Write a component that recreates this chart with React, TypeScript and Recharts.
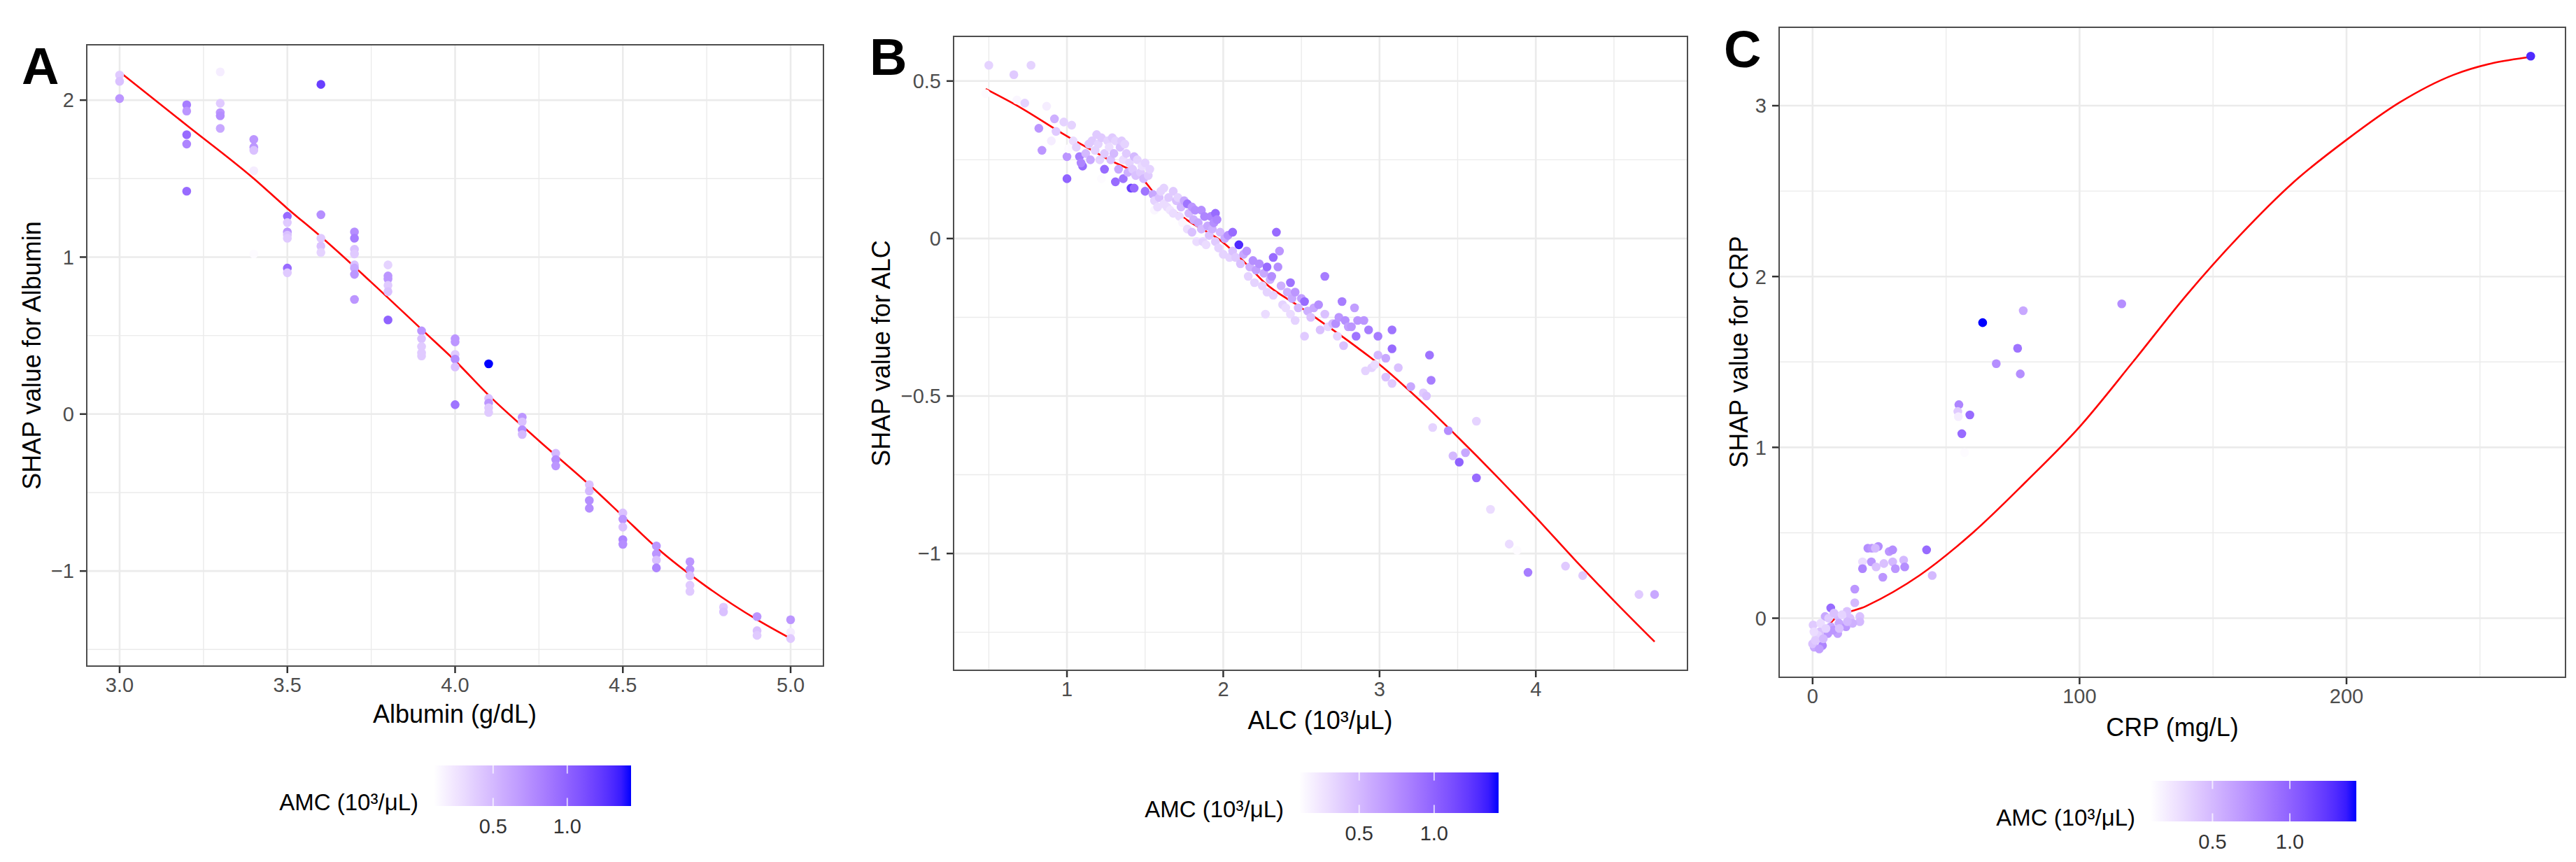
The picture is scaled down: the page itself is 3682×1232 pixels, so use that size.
import React from 'react';
import { ComposedChart, Scatter, Line, XAxis, YAxis, CartesianGrid } from 'recharts';

type Pt = [number, number, number]; // [feature value, SHAP value, AMC]

const FONT = '"Liberation Sans", Arial, Helvetica, sans-serif';

// ---- colour scale (AMC, 10^3/uL), white -> blue like scale_colour_gradient
const AMC_MIN = 0.1;
const AMC_MAX = 1.43;
const amcLegendTicks = [0.5, 1.0];

// ---- panel A: Albumin
const albuminPts: Pt[] = [
    [3.0, 2.16, 0.4], [3.0, 2.12, 0.45], [3.0, 2.01, 0.7],
    [3.2, 1.97, 0.85], [3.2, 1.93, 0.7], [3.2, 1.78, 0.95], [3.2, 1.72, 0.8], [3.2, 1.42, 0.95],
    [3.3, 2.18, 0.2], [3.3, 1.98, 0.4], [3.3, 1.92, 0.7], [3.3, 1.90, 0.75], [3.3, 1.82, 0.6],
    [3.4, 1.75, 0.7], [3.4, 1.70, 0.7], [3.4, 1.68, 0.45], [3.4, 1.55, 0.2], [3.4, 1.02, 0.12],
    [3.5, 1.26, 0.95], [3.5, 1.22, 0.4], [3.5, 1.16, 0.7], [3.5, 1.14, 0.45], [3.5, 1.12, 0.4], [3.5, 0.93, 0.95], [3.5, 0.90, 0.4],
    [3.6, 2.10, 1.2], [3.6, 1.27, 0.75], [3.6, 1.12, 0.4], [3.6, 1.07, 0.45], [3.6, 1.03, 0.35],
    [3.7, 1.16, 0.75], [3.7, 1.12, 0.85], [3.7, 1.05, 0.45], [3.7, 1.02, 0.4], [3.7, 0.95, 0.45], [3.7, 0.93, 0.6], [3.7, 0.89, 0.7], [3.7, 0.73, 0.7],
    [3.8, 0.95, 0.35], [3.8, 0.88, 0.7], [3.8, 0.86, 0.7], [3.8, 0.82, 0.4], [3.8, 0.78, 0.45], [3.8, 0.60, 1.0],
    [3.9, 0.53, 0.7], [3.9, 0.48, 0.45], [3.9, 0.43, 0.4], [3.9, 0.39, 0.4], [3.9, 0.37, 0.4],
    [4.0, 0.48, 0.7], [4.0, 0.46, 0.7], [4.0, 0.38, 0.4], [4.0, 0.35, 0.75], [4.0, 0.30, 0.45], [4.0, 0.06, 0.9],
    [4.1, 0.32, 1.43], [4.1, 0.10, 0.45], [4.1, 0.07, 0.7], [4.1, 0.04, 0.4], [4.1, 0.01, 0.4],
    [4.2, -0.02, 0.7], [4.2, -0.05, 0.45], [4.2, -0.10, 0.75], [4.2, -0.13, 0.5],
    [4.3, -0.25, 0.5], [4.3, -0.29, 0.75], [4.3, -0.33, 0.7],
    [4.4, -0.45, 0.45], [4.4, -0.49, 0.5], [4.4, -0.55, 0.75], [4.4, -0.60, 0.75],
    [4.5, -0.63, 0.45], [4.5, -0.67, 0.7], [4.5, -0.72, 0.45], [4.5, -0.80, 0.8], [4.5, -0.83, 0.75],
    [4.6, -0.84, 0.7], [4.6, -0.89, 0.7], [4.6, -0.93, 0.45], [4.6, -0.98, 0.8],
    [4.7, -0.94, 0.7], [4.7, -0.99, 0.7], [4.7, -1.03, 0.45], [4.7, -1.09, 0.4], [4.7, -1.13, 0.4],
    [4.8, -1.23, 0.4], [4.8, -1.26, 0.45],
    [4.9, -1.29, 0.7], [4.9, -1.38, 0.45], [4.9, -1.41, 0.4],
    [5.0, -1.31, 0.7], [5.0, -1.39, 0.2], [5.0, -1.43, 0.4],
];
const albuminFit: [number, number][] = [
    [3.0, 2.18], [3.2, 1.84], [3.4, 1.5], [3.5, 1.31], [3.6, 1.13], [3.75, 0.84], [3.9, 0.54], [4.0, 0.34],
    [4.1, 0.12], [4.25, -0.17], [4.4, -0.45], [4.5, -0.65], [4.6, -0.85], [4.75, -1.1], [4.9, -1.31], [5.0, -1.43],
];
const albuminXTicks = [3.0, 3.5, 4.0, 4.5, 5.0];
const albuminYTicks = [-1, 0, 1, 2];
const albuminXMinor = [3.25, 3.75, 4.25, 4.75];
const albuminYMinor = [-1.5, -0.5, 0.5, 1.5];

// ---- panel B: ALC
const alcPts: Pt[] = [
    [0.50, 0.55, 0.35], [0.66, 0.52, 0.4], [0.77, 0.55, 0.35], [0.48, 0.46, 0.12], [0.68, 0.44, 0.15], [0.73, 0.43, 0.35], [0.87, 0.42, 0.2],
    [0.92, 0.38, 0.55], [0.82, 0.35, 0.7], [0.84, 0.28, 0.7], [0.90, 0.31, 0.2], [0.93, 0.34, 0.4], [0.98, 0.37, 0.35], [1.03, 0.36, 0.35],
    [1.00, 0.19, 1.0], [1.00, 0.26, 0.7], [1.01, 0.285, 0.12], [1.04, 0.31, 0.3], [1.06, 0.29, 0.35],
    [1.08, 0.26, 0.85], [1.10, 0.23, 0.95], [1.09, 0.24, 0.8], [1.12, 0.27, 0.5], [1.14, 0.30, 0.4], [1.15, 0.25, 0.6], [1.16, 0.31, 0.4],
    [1.19, 0.33, 0.4], [1.18, 0.28, 0.35], [1.21, 0.25, 0.35], [1.20, 0.30, 0.35], [1.22, 0.32, 0.4], [1.22, 0.19, 0.12], [1.24, 0.22, 0.95],
    [1.24, 0.27, 0.4], [1.26, 0.31, 0.35], [1.27, 0.29, 0.3], [1.28, 0.25, 0.45], [1.29, 0.32, 0.4], [1.31, 0.31, 0.35], [1.30, 0.27, 0.5],
    [1.31, 0.18, 0.95], [1.33, 0.22, 0.6], [1.34, 0.29, 0.45], [1.35, 0.31, 0.4], [1.36, 0.25, 0.3], [1.36, 0.19, 0.9], [1.37, 0.30, 0.35],
    [1.38, 0.27, 0.4], [1.39, 0.21, 0.55], [1.40, 0.24, 0.35], [1.41, 0.16, 1.2], [1.42, 0.22, 0.4], [1.43, 0.26, 0.5], [1.44, 0.20, 0.45],
    [1.43, 0.16, 0.95], [1.45, 0.25, 0.35], [1.47, 0.21, 0.4], [1.48, 0.23, 0.3], [1.49, 0.19, 0.5], [1.50, 0.24, 0.35], [1.50, 0.15, 0.9],
    [1.52, 0.20, 0.4], [1.53, 0.22, 0.35], [1.55, 0.14, 0.6], [1.56, 0.12, 0.35], [1.56, 0.09, 0.15], [1.58, 0.10, 0.3], [1.59, 0.13, 0.45],
    [1.60, 0.15, 0.35], [1.62, 0.16, 0.35], [1.62, 0.11, 0.3], [1.64, 0.10, 0.3], [1.65, 0.13, 0.4], [1.66, 0.09, 0.25], [1.68, 0.15, 0.4], [1.68, 0.08, 0.3],
    [1.70, 0.12, 0.45], [1.71, 0.13, 0.35], [1.72, 0.07, 0.3], [1.73, 0.10, 0.5], [1.74, 0.05, 0.15], [1.75, 0.12, 0.6], [1.77, 0.11, 0.9],
    [1.77, 0.03, 0.3], [1.78, 0.08, 0.5], [1.80, 0.10, 0.7], [1.80, 0.02, 0.45], [1.81, 0.06, 0.55], [1.82, 0.09, 0.75], [1.83, -0.01, 0.3],
    [1.84, 0.05, 0.6], [1.86, 0.09, 0.75], [1.86, 0.03, 0.5], [1.87, -0.01, 0.35], [1.88, 0.07, 0.8], [1.89, -0.02, 0.3], [1.90, 0.04, 0.6],
    [1.91, 0.01, 0.45], [1.92, 0.07, 0.8], [1.93, 0.03, 0.55], [1.94, 0.05, 0.75], [1.95, 0.08, 0.95], [1.95, -0.01, 0.4], [1.96, 0.06, 0.8],
    [1.97, -0.03, 0.35], [1.98, 0.02, 0.5], [2.00, -0.05, 0.35], [2.01, 0.00, 0.6],
    [2.03, 0.01, 0.75], [2.06, 0.02, 0.95], [2.04, -0.06, 0.35], [2.06, -0.04, 0.45], [2.08, -0.06, 0.4], [2.10, -0.02, 1.3], [2.11, -0.08, 0.45],
    [2.13, -0.05, 0.6], [2.15, -0.04, 0.7], [2.16, -0.12, 0.35], [2.17, -0.09, 0.55], [2.19, -0.07, 0.75], [2.20, -0.14, 0.35], [2.21, -0.10, 0.65],
    [2.23, -0.08, 0.75], [2.25, -0.15, 0.35], [2.26, -0.11, 0.6], [2.27, -0.24, 0.3], [2.28, -0.09, 0.95], [2.28, -0.17, 0.35], [2.30, -0.13, 0.55],
    [2.31, -0.12, 0.75], [2.32, -0.06, 0.95], [2.32, -0.18, 0.35], [2.34, 0.02, 0.95], [2.35, -0.09, 0.75], [2.36, -0.04, 0.7], [2.37, -0.15, 0.55],
    [2.38, -0.21, 0.35], [2.40, -0.22, 0.3], [2.41, -0.17, 0.55], [2.43, -0.14, 0.9], [2.43, -0.24, 0.3], [2.44, -0.19, 0.6], [2.46, -0.17, 0.7],
    [2.46, -0.26, 0.35], [2.48, -0.22, 0.5], [2.50, -0.19, 0.65], [2.52, -0.20, 0.95], [2.52, -0.31, 0.4], [2.54, -0.23, 0.55], [2.56, -0.25, 0.45],
    [2.58, -0.22, 0.6], [2.61, -0.21, 0.75], [2.62, -0.29, 0.45], [2.65, -0.12, 0.85], [2.65, -0.24, 0.45], [2.67, -0.28, 0.35], [2.70, -0.27, 0.5],
    [2.72, -0.27, 0.75], [2.73, -0.31, 0.35], [2.74, -0.25, 0.7], [2.76, -0.20, 0.85], [2.77, -0.34, 0.45], [2.78, -0.26, 0.75], [2.80, -0.28, 0.65],
    [2.82, -0.28, 0.7], [2.84, -0.22, 0.65], [2.85, -0.31, 0.9], [2.86, -0.26, 0.7], [2.90, -0.26, 0.7], [2.91, -0.42, 0.35], [2.93, -0.29, 0.85],
    [2.95, -0.41, 0.35], [2.97, -0.40, 0.3], [2.99, -0.31, 0.85], [2.99, -0.37, 0.5], [3.04, -0.38, 0.6], [3.04, -0.44, 0.45], [3.08, -0.29, 0.9],
    [3.08, -0.35, 0.95], [3.08, -0.46, 0.4], [3.12, -0.41, 0.45], [3.20, -0.47, 0.6], [3.28, -0.49, 0.4], [3.30, -0.50, 0.45], [3.32, -0.37, 0.9],
    [3.33, -0.45, 0.85], [3.34, -0.60, 0.35], [3.44, -0.61, 0.75], [3.47, -0.69, 0.5], [3.51, -0.71, 1.0], [3.55, -0.68, 0.6], [3.62, -0.58, 0.35],
    [3.62, -0.76, 0.95], [3.71, -0.86, 0.3], [3.83, -0.97, 0.3], [3.88, -0.99, 0.12], [3.95, -1.06, 0.85], [4.19, -1.04, 0.4], [4.30, -1.07, 0.4],
    [4.66, -1.13, 0.4], [4.76, -1.13, 0.6],
];
const alcFit: [number, number][] = [
    [0.48, 0.475], [0.67, 0.425], [1.0, 0.325], [1.25, 0.255], [1.5, 0.18], [1.56, 0.143], [1.75, 0.065], [2.0, -0.013],
    [2.16, -0.087], [2.26, -0.138], [2.5, -0.22], [2.86, -0.347], [3.0, -0.4], [3.25, -0.51], [3.5, -0.63], [3.75, -0.755],
    [4.0, -0.885], [4.25, -1.02], [4.5, -1.15], [4.76, -1.28],
];
const alcXTicks = [1, 2, 3, 4];
const alcYTicks = [-1, -0.5, 0, 0.5];
const alcXMinor = [0.5, 1.5, 2.5, 3.5, 4.5];
const alcYMinor = [-1.25, -0.75, -0.25, 0.25];

// ---- panel C: CRP
const crpPts: Pt[] = [
    [269, 3.29, 1.3], [115.8, 1.84, 0.75], [78.9, 1.80, 0.6], [63.7, 1.73, 1.43], [76.8, 1.58, 0.9], [68.8, 1.49, 0.75], [77.8, 1.43, 0.75],
    [54.8, 1.25, 0.8], [54.4, 1.21, 0.4], [54.6, 1.18, 0.2], [58.9, 1.19, 0.95], [55.9, 1.08, 0.95], [56.9, 0.97, 0.12],
    [42.7, 0.40, 0.95], [44.8, 0.25, 0.5],
    [20.7, 0.41, 0.75], [22.2, 0.41, 0.7], [24.6, 0.42, 0.75], [23.5, 0.41, 0.5], [28.7, 0.39, 0.7], [30.0, 0.40, 0.75],
    [18.7, 0.33, 0.3], [22.0, 0.33, 0.7], [26.7, 0.32, 0.45], [30.0, 0.33, 0.5], [34.1, 0.34, 0.5], [18.7, 0.29, 0.8],
    [23.8, 0.30, 0.45], [26.3, 0.24, 0.7], [31.0, 0.29, 0.7], [34.5, 0.30, 0.75],
    [15.8, 0.17, 0.7], [15.8, 0.09, 0.5],
    [6.8, 0.06, 0.95], [4.7, 0.01, 0.6], [9.5, 0.01, 0.5], [12.9, 0.04, 0.45], [17.7, 0.01, 0.45], [17.7, -0.02, 0.5],
    [9.9, -0.03, 0.6], [12.5, -0.05, 0.7], [9.4, -0.09, 0.65], [5.7, -0.09, 0.7], [3.7, -0.16, 0.8], [0.6, -0.17, 0.6],
    [0.0, -0.15, 0.45], [1.6, -0.12, 0.4], [2.7, -0.08, 0.45], [0.2, -0.04, 0.4], [6.8, -0.05, 0.6], [7.8, -0.07, 0.7],
    [14.0, 0.0, 0.45], [15.0, -0.03, 0.55], [3.0, -0.03, 0.3], [2.0, -0.10, 0.35], [1.0, -0.13, 0.4], [4.0, -0.12, 0.5],
    [6.0, 0.0, 0.4], [8.0, 0.03, 0.45], [11.0, 0.02, 0.35], [13.0, -0.02, 0.5], [0.5, -0.08, 0.3], [2.5, -0.18, 0.65],
    [5.0, -0.06, 0.35], [10.0, -0.06, 0.45],
];
const crpFit: [number, number][] = [
    [0.5, -0.07], [3.7, -0.073], [7.8, -0.01], [20, 0.07], [40, 0.25], [60, 0.5], [80, 0.8], [100, 1.12], [120, 1.5],
    [140, 1.89], [160, 2.24], [180, 2.55], [200, 2.8], [220, 3.02], [240, 3.18], [255, 3.25], [269, 3.285],
];
const crpXTicks = [0, 100, 200];
const crpYTicks = [0, 1, 2, 3];
const crpXMinor = [50, 150, 250];
const crpYMinor = [0.5, 1.5, 2.5];

// ---- Lab interpolation (as ggplot/scales does)
const lin = (c: number) => { c /= 255; return c <= 0.04045 ? c / 12.92 : Math.pow((c + 0.055) / 1.055, 2.4); };
const gam = (c: number) => {
    const v = c <= 0.0031308 ? 12.92 * c : 1.055 * Math.pow(c, 1 / 2.4) - 0.055;
    return Math.round(Math.min(1, Math.max(0, v)) * 255);
};
const rgb2lab = (r: number, g: number, b: number) => {
    const R = lin(r), G = lin(g), B = lin(b);
    const X = (0.4124 * R + 0.3576 * G + 0.1805 * B) / 0.95047;
    const Y = 0.2126 * R + 0.7152 * G + 0.0722 * B;
    const Z = (0.0193 * R + 0.1192 * G + 0.9505 * B) / 1.08883;
    const f = (t: number) => (t > 0.008856 ? Math.cbrt(t) : 7.787 * t + 16 / 116);
    return [116 * f(Y) - 16, 500 * (f(X) - f(Y)), 200 * (f(Y) - f(Z))];
};
const lab2hex = (L: number, a: number, b: number) => {
    const fy = (L + 16) / 116, fx = fy + a / 500, fz = fy - b / 200;
    const inv = (t: number) => (t * t * t > 0.008856 ? t * t * t : (t - 16 / 116) / 7.787);
    const X = inv(fx) * 0.95047, Y = inv(fy), Z = inv(fz) * 1.08883;
    const r = gam(3.2406 * X - 1.5372 * Y - 0.4986 * Z);
    const g = gam(-0.9689 * X + 1.8758 * Y + 0.0415 * Z);
    const bb = gam(0.0557 * X - 0.204 * Y + 1.057 * Z);
    return '#' + [r, g, bb].map((v) => v.toString(16).padStart(2, '0')).join('');
};
const LOW = rgb2lab(255, 255, 255);
const HIGH = rgb2lab(0, 0, 255);
const colourAt = (t: number) => {
    const k = Math.min(1, Math.max(0, t));
    return lab2hex(LOW[0] + (HIGH[0] - LOW[0]) * k, LOW[1] + (HIGH[1] - LOW[1]) * k, LOW[2] + (HIGH[2] - LOW[2]) * k);
};
const amcColour = (v: number) => colourAt((v - AMC_MIN) / (AMC_MAX - AMC_MIN));

const fmtSigned = (v: number) => (v < 0 ? '\u2212' + String(Math.abs(v)) : String(v));

const tickStyle = { fontSize: 29, fill: '#4D4D4D', fontFamily: FONT };
const tickLine = { stroke: '#333333', strokeWidth: 2.5 };

interface PanelProps {
    pts: Pt[];
    fit: [number, number][];
    xDomain: [number, number];
    yDomain: [number, number];
    xTicks: number[];
    yTicks: number[];
    xMinor: number[];
    yMinor: number[];
    xFmt: (v: number) => string;
    left: number;
    width: number;
    plot: { l: number; t: number; r: number; b: number };
}

const H = 1010;
const Y_AXIS_W = 80;
const X_AXIS_H = 50;

const Panel: React.FC<PanelProps> = (p) => {
    const pts = p.pts.map(([x, y, amc]) => ({ x, y, amc }));
    const fit = p.fit.map(([x, y]) => ({ x, y }));
    const margin = { left: p.plot.l - Y_AXIS_W, top: p.plot.t, right: p.width - p.plot.r, bottom: H - p.plot.b - X_AXIS_H };
    return (
        <div style={{ position: 'absolute', left: p.left, top: 0, width: p.width, height: H }}>
            <ComposedChart width={p.width} height={H} margin={margin}>
                <CartesianGrid stroke="#EBEBEB" strokeWidth={1.4} horizontalValues={p.yMinor} verticalValues={p.xMinor} />
                <CartesianGrid stroke="#EBEBEB" strokeWidth={2.6} horizontalValues={p.yTicks} verticalValues={p.xTicks} />
                <XAxis type="number" dataKey="x" domain={p.xDomain} ticks={p.xTicks} allowDataOverflow interval={0}
                    tickFormatter={p.xFmt} tick={tickStyle} tickLine={tickLine} axisLine={false}
                    tickSize={9} tickMargin={6} height={X_AXIS_H} />
                <YAxis type="number" dataKey="y" domain={p.yDomain} ticks={p.yTicks} allowDataOverflow interval={0}
                    tickFormatter={fmtSigned} tick={tickStyle} tickLine={tickLine} axisLine={false}
                    tickSize={9} tickMargin={8} width={Y_AXIS_W} />
                <Scatter data={pts} dataKey="y" isAnimationActive={false}
                    shape={(s: any) => <circle cx={s.cx} cy={s.cy} r={6.3} fill={amcColour(s.payload.amc)} />} />
                <Line data={fit} dataKey="y" type="monotone" stroke="#FF0000" strokeWidth={2.6} dot={false}
                    activeDot={false} isAnimationActive={false} />
            </ComposedChart>
            <div style={{
                position: 'absolute', left: p.plot.l, top: p.plot.t, width: p.plot.r - p.plot.l, height: p.plot.b - p.plot.t,
                border: '2.5px solid #4D4D4D', boxSizing: 'border-box', pointerEvents: 'none',
            }} />
        </div>
    );
};

const Legend: React.FC<{ x: number; y: number; w: number }> = ({ x, y, w }) => {
    const h = 58;
    const gid = `amc-${x}`;
    const stops = Array.from({ length: 21 }, (_, i) => i / 20);
    const pos = (v: number) => x + ((v - AMC_MIN) / (AMC_MAX - AMC_MIN)) * w;
    return (
        <g>
            <defs>
                <linearGradient id={gid} x1="0" y1="0" x2="1" y2="0">
                    {stops.map((t) => <stop key={t} offset={t} stopColor={colourAt(t)} />)}
                </linearGradient>
            </defs>
            <text x={x - 22} y={y + h + 6} textAnchor="end" fontSize={33} fill="#000">AMC (10³/μL)</text>
            <rect x={x} y={y} width={w} height={h} fill={`url(#${gid})`} />
            {amcLegendTicks.map((v) => (
                <g key={v}>
                    <line x1={pos(v)} x2={pos(v)} y1={y} y2={y + h / 5} stroke="#fff" strokeOpacity={0.7} strokeWidth={2} />
                    <line x1={pos(v)} x2={pos(v)} y1={y + h - h / 5} y2={y + h} stroke="#fff" strokeOpacity={0.7} strokeWidth={2} />
                    <text x={pos(v)} y={y + h + 39} textAnchor="middle" fontSize={29} fill="#333">{v.toFixed(1)}</text>
                </g>
            ))}
        </g>
    );
};

const App: React.FC = () => (
    <div style={{ position: 'absolute', left: 0, top: 0, width: 3682, height: 1232, background: '#fff', fontFamily: FONT }}>
        <Panel pts={albuminPts} fit={albuminFit} xDomain={[2.9, 5.1]} yDomain={[-1.61, 2.357]}
            xTicks={albuminXTicks} yTicks={albuminYTicks} xMinor={albuminXMinor} yMinor={albuminYMinor}
            xFmt={(v) => v.toFixed(1)} left={0} width={1230} plot={{ l: 123, t: 63, r: 1178, b: 953 }} />
        <Panel pts={alcPts} fit={alcFit} xDomain={[0.27, 4.975]} yDomain={[-1.373, 0.644]}
            xTicks={alcXTicks} yTicks={alcYTicks} xMinor={alcXMinor} yMinor={alcYMinor}
            xFmt={(v) => String(v)} left={1230} width={1230} plot={{ l: 132, t: 51, r: 1183, b: 959 }} />
        <Panel pts={crpPts} fit={crpFit} xDomain={[-12.8, 282.3]} yDomain={[-0.35, 3.463]}
            xTicks={crpXTicks} yTicks={crpYTicks} xMinor={crpXMinor} yMinor={crpYMinor}
            xFmt={(v) => String(v)} left={2460} width={1222} plot={{ l: 82, t: 38, r: 1208, b: 969 }} />
        <svg width={3682} height={1232} style={{ position: 'absolute', left: 0, top: 0, pointerEvents: 'none' }}
            fontFamily={FONT}>
            <text x={31} y={120} fontSize={74} fontWeight="bold">A</text>
            <text x={1243} y={107} fontSize={74} fontWeight="bold">B</text>
            <text x={2464} y={96} fontSize={74} fontWeight="bold">C</text>

            <text x={650} y={1020} fontSize={36} textAnchor="middle" dominantBaseline="central">Albumin (g/dL)</text>
            <text x={1887} y={1029} fontSize={36} textAnchor="middle" dominantBaseline="central">ALC (10³/μL)</text>
            <text x={3105} y={1039} fontSize={36} textAnchor="middle" dominantBaseline="central">CRP (mg/L)</text>

            <text transform="translate(45,508) rotate(-90)" fontSize={36} textAnchor="middle" dominantBaseline="central">SHAP value for Albumin</text>
            <text transform="translate(1259,505) rotate(-90)" fontSize={36} textAnchor="middle" dominantBaseline="central">SHAP value for ALC</text>
            <text transform="translate(2485,503) rotate(-90)" fontSize={36} textAnchor="middle" dominantBaseline="central">SHAP value for CRP</text>

            <Legend x={620} y={1094} w={282} />
            <Legend x={1857} y={1104} w={285} />
            <Legend x={3074} y={1116} w={294} />
        </svg>
    </div>
);

export default App;
